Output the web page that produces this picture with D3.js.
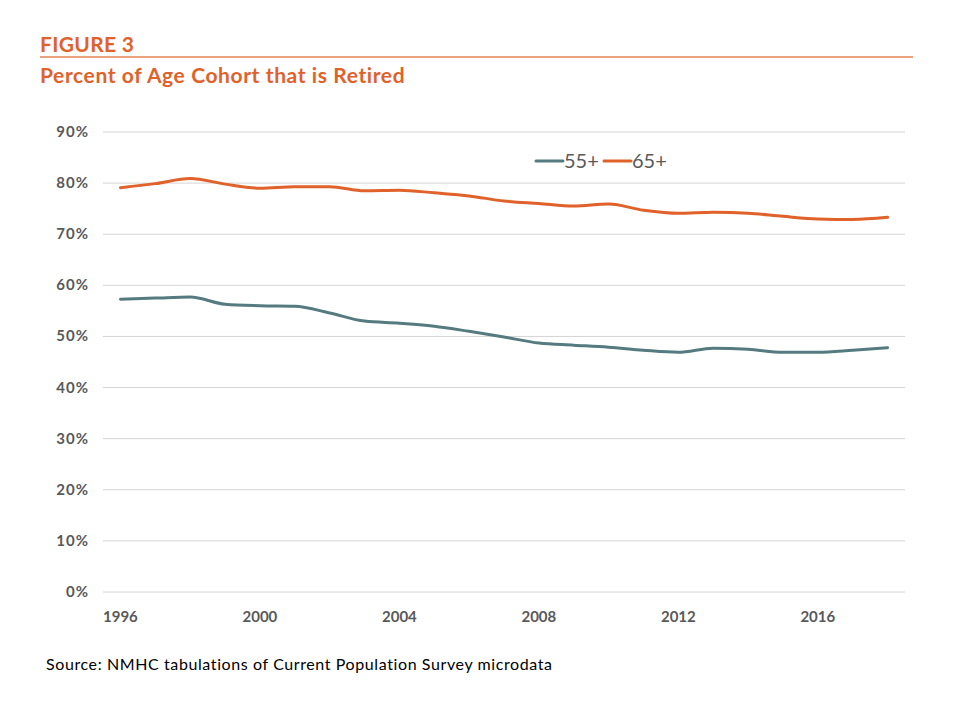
<!DOCTYPE html>
<html>
<head>
<meta charset="utf-8">
<script src="https://cdn.jsdelivr.net/npm/d3@7"></script>
<style>
  body { margin: 0; background: #fff; }
  svg { font-family: Lato, "Open Sans", sans-serif; }
</style>
</head>
<body>
<div class="chart"></div>
<script>
// data (percent retired)
const years = d3.range(1996, 2019);
const age55 = [57.3, 57.5, 57.7, 56.3, 56.0, 55.9, 54.6, 53.0, 52.6, 52.0, 51.0, 49.9,
  48.7, 48.3, 47.9, 47.3, 46.9, 47.7, 47.5, 46.9, 46.9, 47.3, 47.8];
const age65 = [79.1, 79.9, 80.9, 79.8, 79.0, 79.3, 79.3, 78.5, 78.6, 78.1, 77.5, 76.5,
  76.0, 75.5, 75.9, 74.7, 74.1, 74.3, 74.1, 73.5, 73.0, 72.9, 73.3];
const yTicks = [0, 10, 20, 30, 40, 50, 60, 70, 80, 90];
const xLabels = [1996, 2000, 2004, 2008, 2012, 2016];

const seriesList = [
  { name: "55+", values: age55, color: "#557b80" },
  { name: "65+", values: age65, color: "#e0622a" }
];

const width = 960, height = 720;
const svg = d3.select(".chart").append("svg")
  .attr("width", width)
  .attr("height", height);

// heading
svg.append("text")
  .attr("x", 40).attr("y", 52)
  .attr("fill", "#e0622a")
  .style("font-size", "21px").style("font-weight", "bold")
  .style("letter-spacing", "0.3px")
  .text("FIGURE 3");

svg.append("line")
  .attr("x1", 40).attr("x2", 913)
  .attr("y1", 57).attr("y2", 57)
  .attr("stroke", "#e38353").attr("stroke-width", 1.5);

svg.append("text")
  .attr("x", 40).attr("y", 83)
  .attr("fill", "#e0622a")
  .style("font-size", "21px").style("font-weight", "bold")
  .style("letter-spacing", "0.6px")
  .text("Percent of Age Cohort that is Retired");

// scales
const x = d3.scaleBand().domain(years).range([103, 905]);
const y = d3.scaleLinear().domain([0, 90]).range([592, 132]);

// grid
svg.append("g").selectAll("line")
  .data(yTicks)
  .enter()
  .append("line")
  .attr("x1", 103).attr("x2", 905)
  .attr("y1", d => y(d)).attr("y2", d => y(d))
  .attr("stroke", "#d4d4d4").attr("stroke-width", 1);

// y labels
svg.append("g").selectAll("text")
  .data(yTicks)
  .enter()
  .append("text")
  .attr("x", 89)
  .attr("y", d => y(d) + 5)
  .attr("text-anchor", "end")
  .attr("fill", "#595959")
  .style("font-size", "15px").style("font-weight", "bold")
  .style("letter-spacing", "1px")
  .text(d => d + "%");

// x labels
svg.append("g").selectAll("text")
  .data(xLabels)
  .enter()
  .append("text")
  .attr("x", d => x(d) + x.bandwidth() / 2)
  .attr("y", 622)
  .attr("text-anchor", "middle")
  .attr("fill", "#595959")
  .style("font-size", "15px").style("font-weight", "bold")
  .text(d => d);

// lines
const line = d3.line()
  .x((d, i) => x(years[i]) + x.bandwidth() / 2)
  .y(d => y(d))
  .curve(d3.curveMonotoneX);

svg.append("g").selectAll("path")
  .data(seriesList)
  .enter()
  .append("path")
  .attr("d", d => line(d.values))
  .attr("fill", "none")
  .attr("stroke", d => d.color)
  .attr("stroke-width", 3)
  .attr("stroke-linecap", "round");

// legend
const legend = svg.append("g").attr("transform", "translate(536, 161)");
const items = legend.selectAll("g")
  .data(seriesList)
  .enter()
  .append("g")
  .attr("transform", (d, i) => `translate(${i * 68}, 0)`);
items.append("line")
  .attr("x1", 0).attr("x2", 27)
  .attr("stroke", d => d.color)
  .attr("stroke-width", 3)
  .attr("stroke-linecap", "round");
items.append("text")
  .attr("x", 28).attr("y", 7)
  .attr("fill", "#595959")
  .style("font-size", "20px")
  .text(d => d.name);

// source
svg.append("text")
  .attr("x", 46).attr("y", 670)
  .attr("fill", "#000")
  .style("font-size", "16px")
  .style("letter-spacing", "0.6px")
  .text("Source: NMHC tabulations of Current Population Survey microdata");
</script>
</body>
</html>
